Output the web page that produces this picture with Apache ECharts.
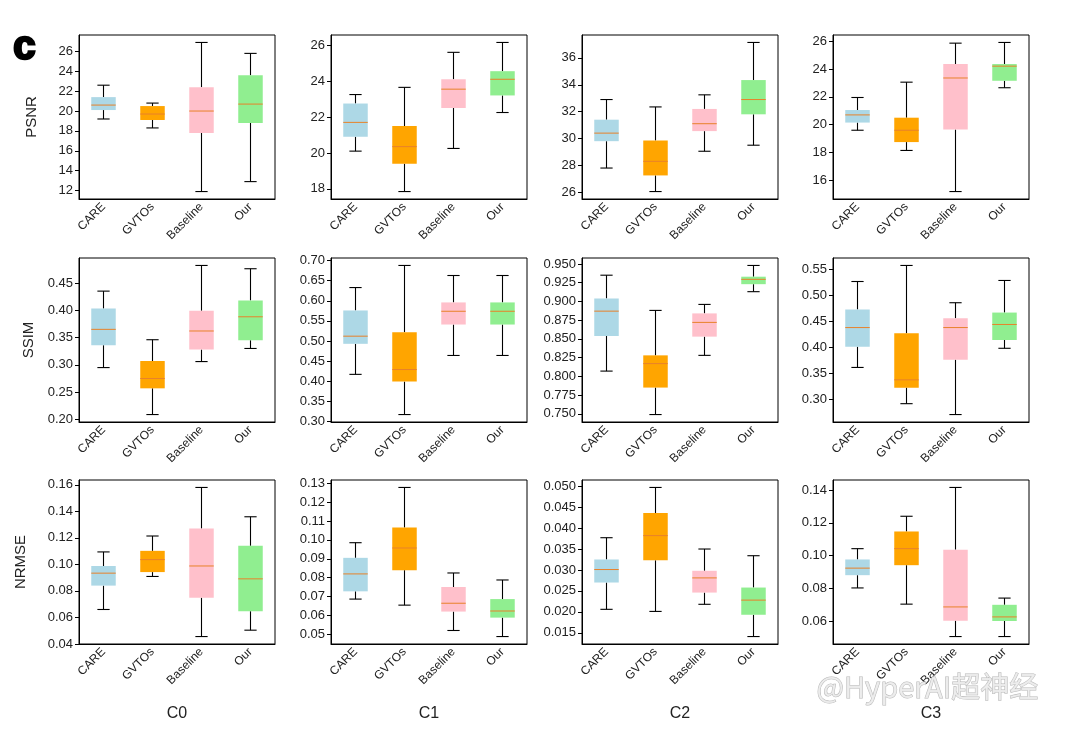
<!DOCTYPE html>
<html lang="en">
<head>
<meta charset="UTF-8">
<title>Boxplots</title>
<script src="https://cdn.jsdelivr.net/npm/echarts@6/dist/echarts.min.js"></script>
<style>
  html, body { margin: 0; padding: 0; background: #fff; }
</style>
</head>
<body>
<div id="chart" style="width: 1073px; height: 729px;"></div>
<script>
    const methods = ['CARE', 'GVTOs', 'Baseline', 'Our'];
    const columns = ['C0', 'C1', 'C2', 'C3'];
    const metrics = ['PSNR', 'SSIM', 'NRMSE'];

    // each box: [min, q1, median, q3, max], in order CARE, GVTOs, Baseline, Our
    const psnrC0 = [[19.2, 20.1, 20.6, 21.4, 22.6], [18.3, 19.1, 19.7, 20.5, 20.8], [11.9, 17.8, 20.0, 22.4, 26.9], [12.9, 18.8, 20.7, 23.6, 25.8]];
    const psnrC1 = [[20.1, 20.9, 21.7, 22.75, 23.25], [17.85, 19.4, 20.35, 21.5, 23.65], [20.25, 22.5, 23.55, 24.1, 25.6], [22.25, 23.2, 24.1, 24.55, 26.15]];
    const psnrC2 = [[27.8, 29.8, 30.4, 31.4, 32.9], [26.05, 27.25, 28.3, 29.85, 32.35], [29.05, 30.55, 31.1, 32.2, 33.25], [29.5, 31.8, 32.9, 34.35, 37.15]];
    const psnrC3 = [[19.6, 20.15, 20.7, 21.05, 21.95], [18.15, 18.75, 19.6, 20.5, 23.05], [15.2, 19.65, 23.35, 24.35, 25.85], [22.65, 23.15, 24.2, 24.35, 25.9]];

    const ssimC0 = [[0.295, 0.336, 0.365, 0.403, 0.435], [0.209, 0.257, 0.275, 0.307, 0.346], [0.306, 0.328, 0.362, 0.399, 0.482], [0.330, 0.345, 0.388, 0.418, 0.476]];
    const ssimC1 = [[0.417, 0.493, 0.512, 0.576, 0.633], [0.317, 0.399, 0.429, 0.522, 0.688], [0.464, 0.541, 0.574, 0.596, 0.663], [0.464, 0.541, 0.574, 0.596, 0.663]];
    const ssimC2 = [[0.807, 0.854, 0.887, 0.904, 0.935], [0.749, 0.785, 0.817, 0.828, 0.888], [0.828, 0.853, 0.872, 0.884, 0.896], [0.913, 0.923, 0.9295, 0.933, 0.948]];
    const ssimC3 = [[0.361, 0.401, 0.438, 0.473, 0.527], [0.291, 0.322, 0.337, 0.427, 0.558], [0.270, 0.376, 0.438, 0.456, 0.486], [0.398, 0.414, 0.444, 0.467, 0.529]];

    const nrmseC0 = [[0.066, 0.084, 0.0934, 0.0988, 0.1094], [0.0909, 0.0942, 0.1036, 0.1102, 0.1214], [0.0456, 0.0749, 0.0988, 0.127, 0.158], [0.0504, 0.0647, 0.0891, 0.114, 0.1359]];
    const nrmseC1 = [[0.0687, 0.0728, 0.082, 0.0905, 0.0985], [0.0655, 0.084, 0.0957, 0.1065, 0.1277], [0.0521, 0.0621, 0.0665, 0.0751, 0.0825], [0.0489, 0.0589, 0.0624, 0.0687, 0.0788]];
    const nrmseC2 = [[0.0206, 0.027, 0.0301, 0.0325, 0.0377], [0.0201, 0.0323, 0.0382, 0.0436, 0.0497], [0.0218, 0.0246, 0.0281, 0.0298, 0.035], [0.0141, 0.0193, 0.0228, 0.0258, 0.0334]];
    const nrmseC3 = [[0.0802, 0.088, 0.0923, 0.0976, 0.1042], [0.0703, 0.0941, 0.1042, 0.1147, 0.124], [0.0505, 0.0602, 0.0686, 0.1036, 0.1416], [0.0505, 0.06, 0.0625, 0.0699, 0.074]];

    // y tick labels per panel
    const psnrTicks = [
        ['12', '14', '16', '18', '20', '22', '24', '26'],
        ['18', '20', '22', '24', '26'],
        ['26', '28', '30', '32', '34', '36'],
        ['16', '18', '20', '22', '24', '26']
    ];
    const ssimTicks = [
        ['0.20', '0.25', '0.30', '0.35', '0.40', '0.45'],
        ['0.30', '0.35', '0.40', '0.45', '0.50', '0.55', '0.60', '0.65', '0.70'],
        ['0.750', '0.775', '0.800', '0.825', '0.850', '0.875', '0.900', '0.925', '0.950'],
        ['0.30', '0.35', '0.40', '0.45', '0.50', '0.55']
    ];
    const nrmseTicks = [
        ['0.04', '0.06', '0.08', '0.10', '0.12', '0.14', '0.16'],
        ['0.05', '0.06', '0.07', '0.08', '0.09', '0.10', '0.11', '0.12', '0.13'],
        ['0.015', '0.020', '0.025', '0.030', '0.035', '0.040', '0.045', '0.050'],
        ['0.06', '0.08', '0.10', '0.12', '0.14']
    ];

    const panels = [
        [psnrC0, psnrC1, psnrC2, psnrC3],
        [ssimC0, ssimC1, ssimC2, ssimC3],
        [nrmseC0, nrmseC1, nrmseC2, nrmseC3]
    ];
    const tickSets = [psnrTicks, ssimTicks, nrmseTicks];

    const boxColors = ['#add8e6', '#ffa500', '#ffc0cb', '#90ee90'];
    const medianColor = '#e8822a';
    const font = 'Liberation Sans, Arial, sans-serif';

    const gridLeft = [79, 331, 582, 833];
    const gridTop = [35, 258, 480];
    const gridW = 196, gridH = 164;
    const nameGaps = [40, 43, 51];

    function renderBox(params, api) {
        const i = api.value(0);
        const x = api.coord([i, api.value(3)])[0];
        const yMin = api.coord([i, api.value(1)])[1];
        const yQ1 = api.coord([i, api.value(2)])[1];
        const yMed = api.coord([i, api.value(3)])[1];
        const yQ3 = api.coord([i, api.value(4)])[1];
        const yMax = api.coord([i, api.value(5)])[1];
        const bw = api.size([1, 0])[0] * 0.5;
        const cw = bw * 0.5;
        const black = { stroke: '#000', lineWidth: 1.1 };
        return {
            type: 'group',
            children: [
                { type: 'line', shape: { x1: x, y1: yMin, x2: x, y2: yQ1 }, style: black },
                { type: 'line', shape: { x1: x, y1: yQ3, x2: x, y2: yMax }, style: black },
                { type: 'line', shape: { x1: x - cw / 2, y1: yMin, x2: x + cw / 2, y2: yMin }, style: black },
                { type: 'line', shape: { x1: x - cw / 2, y1: yMax, x2: x + cw / 2, y2: yMax }, style: black },
                { type: 'rect', shape: { x: x - bw / 2, y: yQ3, width: bw, height: yQ1 - yQ3 }, style: { fill: boxColors[i] } },
                { type: 'line', shape: { x1: x - bw / 2, y1: yMed, x2: x + bw / 2, y2: yMed }, style: { stroke: medianColor, lineWidth: 1 } }
            ]
        };
    }

    const grids = [], xAxes = [], yAxes = [], series = [];
    panels.forEach((row, r) => {
        row.forEach((boxes, c) => {
            const idx = grids.length;
            const lo = Math.min(...boxes.map(b => b[0]));
            const hi = Math.max(...boxes.map(b => b[4]));
            const pad = (hi - lo) * 0.05;
            const labels = tickSets[r][c];
            grids.push({
                left: gridLeft[c], top: gridTop[r], width: gridW, height: gridH,
                show: true, borderColor: '#000', borderWidth: 1, backgroundColor: 'transparent'
            });
            xAxes.push({
                type: 'category', gridIndex: idx, data: methods, boundaryGap: true,
                axisLine: { lineStyle: { color: '#000', width: 1 } },
                axisTick: { alignWithLabel: true, length: 4, lineStyle: { color: '#000' } },
                axisLabel: { rotate: 45, fontSize: 12, color: '#222', margin: 6, fontFamily: font, interval: 0 },
                name: r === 2 ? columns[c] : '',
                nameLocation: 'middle', nameGap: 62,
                nameTextStyle: { fontSize: 16, color: '#222', fontFamily: font }
            });
            yAxes.push({
                type: 'value', gridIndex: idx, min: lo - pad, max: hi + pad,
                splitLine: { show: false },
                axisLine: { show: true, lineStyle: { color: '#000', width: 1 } },
                axisTick: { show: true, length: 4, lineStyle: { color: '#000' }, customValues: labels.map(Number) },
                axisLabel: {
                    fontSize: 13, color: '#222', margin: 6, fontFamily: font,
                    customValues: labels.map(Number),
                    formatter: v => labels.find(l => Math.abs(Number(l) - v) < 1e-9) || ''
                },
                name: c === 0 ? metrics[r] : '',
                nameLocation: 'middle', nameRotate: 90, nameGap: nameGaps[r],
                nameTextStyle: { fontSize: 15, color: '#222', fontFamily: font }
            });
            series.push({
                type: 'custom', xAxisIndex: idx, yAxisIndex: idx,
                renderItem: renderBox,
                encode: { x: 0, y: [1, 2, 3, 4, 5] },
                data: boxes.map((b, i) => [i, ...b]),
                silent: true
            });
        });
    });

    const chart = echarts.init(document.getElementById('chart'));
    chart.setOption({
        backgroundColor: '#fff',
        animation: false,
        grid: grids,
        xAxis: xAxes,
        yAxis: yAxes,
        series: series,
        graphic: [
            {
                type: 'text', left: 12, top: 27,
                style: { text: 'c', font: 'bold 40px Arial, sans-serif', fill: '#000', stroke: '#000', lineWidth: 2.5 }
            },
            {
                type: 'text', left: 816, top: 672, z: 100,
                style: {
                    text: '@HyperAI超神经',
                    font: '29px "Noto Sans CJK SC", sans-serif',
                    fill: 'rgba(235,235,235,0.9)', stroke: '#b8b8b8', lineWidth: 1
                }
            }
        ]
    });
</script>
</body>
</html>
